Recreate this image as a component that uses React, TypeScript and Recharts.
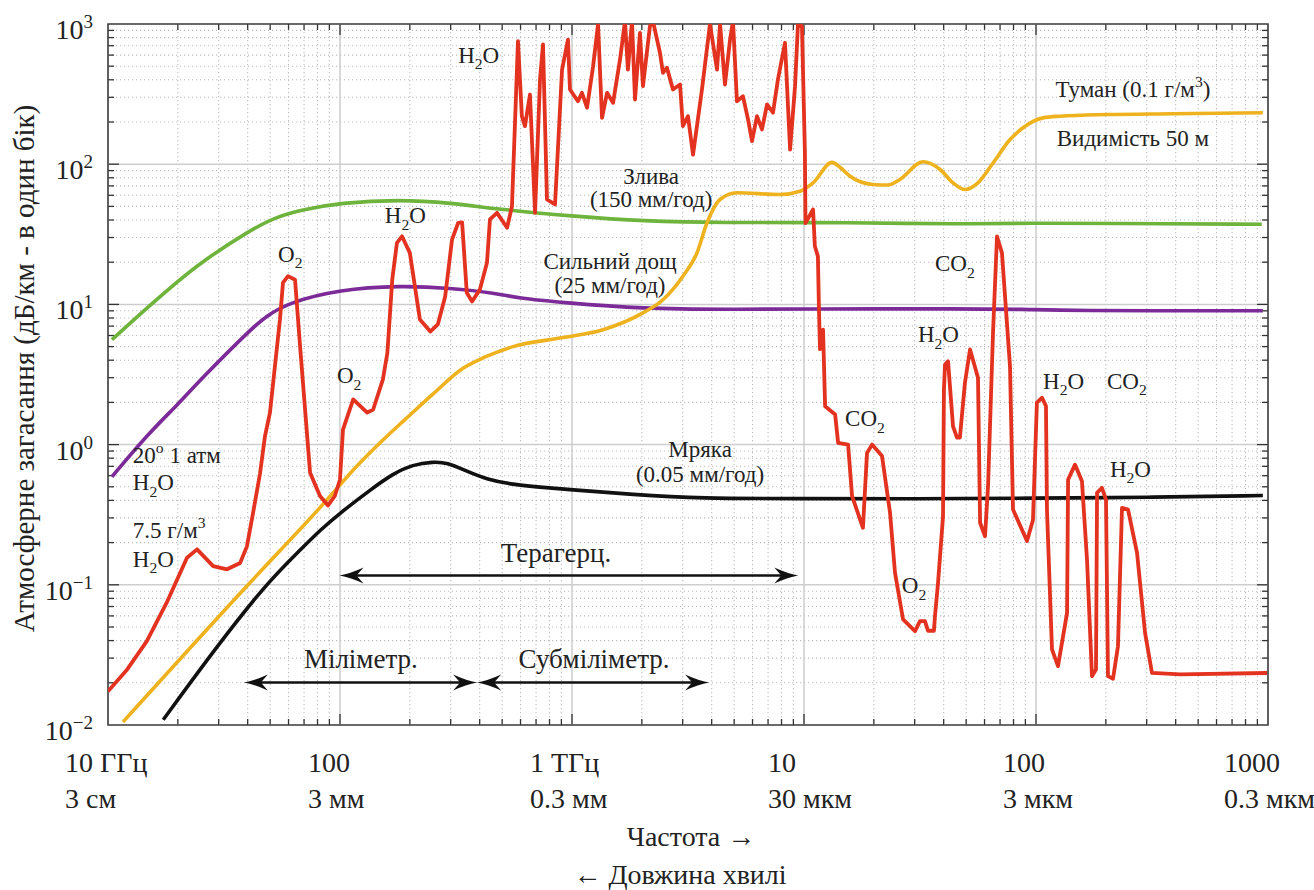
import React from 'react';
import {
  ComposedChart,
  Line,
  XAxis,
  YAxis,
  ReferenceLine,
  ReferenceDot,
  ReferenceArea,
} from 'recharts';

const FONT = "'Liberation Serif', 'Times New Roman', 'DejaVu Serif', serif";

// frequency in GHz, attenuation in dB/km (one way)
const freqTicks = [10, 100, 1000, 10000, 100000, 1000000];
const freqLabels = ['10 ГГц', '100', '1 ТГц', '10', '100', '1000'];
const waveLabels = ['3 см', '3 мм', '0.3 мм', '30 мкм', '3 мкм', '0.3 мкм'];
const attenTicks = [0.01, 0.1, 1, 10, 100, 1000];
const attenExp = ['−2', '−1', '0', '1', '2', '3'];
const minorSteps = [2, 3, 4, 5, 6, 7, 8, 9];

// clear air, 20°, 1 atm, H2O 7.5 g/m3
const clearAir: [number, number][] = [
  [10, 0.0174], [12.1, 0.0249], [14.7, 0.0396], [17.9, 0.0745], [21.9, 0.156], [24.2, 0.179],
  [28.4, 0.136], [32.6, 0.129], [37.1, 0.143], [39.7, 0.188], [42.2, 0.326], [45.2, 0.62],
  [47.5, 1.15], [49.9, 1.69], [55.1, 7.8], [56.8, 14.3], [59.7, 15.9], [64, 15], [67.3, 5.0],
  [74.3, 0.63], [82, 0.43], [88.8, 0.368], [95, 0.43], [100, 0.564], [103, 1.28], [114, 2.1],
  [131, 1.69], [139, 1.78], [153, 2.91], [160, 4.5], [168, 15.1], [176, 27.5], [185, 30.6],
  [200, 23.3], [221, 7.8], [245, 6.4], [264, 7.2], [284, 11.4], [304, 29], [323, 38.2],
  [336, 38.5], [352, 12.1], [371, 10.5], [401, 12.8], [430, 19.8], [443, 40.4], [475, 45],
  [525, 35.2], [551, 50], [585, 754], [608, 220], [627, 187], [659, 314], [693, 45], [728, 402],
  [750, 714], [780, 56], [845, 51.6], [906, 473], [961, 774], [980, 341], [1061, 281],
  [1104, 323], [1161, 253], [1233, 500], [1295, 1000], [1347, 214], [1416, 323], [1503, 274],
  [1611, 559], [1692, 1050], [1742, 473], [1814, 1050], [1869, 289], [1963, 865], [2022, 360],
  [2167, 964], [2233, 1050], [2394, 624], [2466, 449], [2566, 487], [2723, 341], [2922, 370],
  [3006, 187], [3162, 220], [3324, 117], [3632, 341], [3933, 1000], [4217, 473], [4347, 1000],
  [4564, 370], [4800, 774], [4943, 1050], [5140, 281], [5458, 305], [5741, 208], [5970, 146],
  [6270, 220], [6590, 177], [6930, 267], [7350, 233], [7720, 402], [8280, 735], [8710, 127],
  [9150, 360], [9420, 1000], [9800, 964], [10090, 121], [10150, 38], [10940, 47.5], [11140, 26],
  [11480, 22], [11600, 9.2], [11720, 4.8], [12080, 6.6], [12330, 1.88], [13620, 1.64],
  [14030, 1.03], [15490, 1.0], [16110, 0.43], [17950, 0.255], [18690, 0.87], [19650, 1.0],
  [21690, 0.83], [23490, 0.326], [24670, 0.122], [26730, 0.0566], [30090, 0.0467],
  [31620, 0.055], [33240, 0.055], [34230, 0.047], [36310, 0.047], [36700, 0.06], [37820, 0.103],
  [39740, 0.308], [40100, 2.47], [40540, 3.73], [41770, 3.93], [43890, 1.35], [45650, 1.12],
  [46990, 1.12], [49400, 2.76], [51960, 4.77], [56230, 3.0], [57410, 0.277], [60300, 0.222],
  [62130, 0.505], [65280, 6.3], [67900, 30.5], [71330, 23.3], [77270, 3.6], [79600, 0.344],
  [91450, 0.205], [97040, 0.29], [100900, 1.99], [106200, 2.16], [110400, 1.88], [111500, 0.344],
  [117200, 0.0346], [124400, 0.0263], [136100, 0.063], [137500, 0.563], [147300, 0.72],
  [157800, 0.548], [165900, 0.151], [174300, 0.0223], [181400, 0.0249], [183300, 0.453],
  [192400, 0.492], [200300, 0.405], [204300, 0.0223], [214800, 0.0214], [225600, 0.0365],
  [234800, 0.354], [249300, 0.344], [272600, 0.169], [295200, 0.0454], [316200, 0.0235],
  [417600, 0.023], [990000, 0.0235],
];

// downpour 150 mm/h
const downpour: [number, number][] = [
  [10.4, 5.6], [15, 9.7], [20, 14.6], [25, 19.8], [41, 34], [54, 42.6], [70, 47.5], [100, 53],
  [180, 56], [300, 53], [490, 47.5], [1000, 42.6], [2000, 39.2], [4800, 38.2], [10000, 38.5],
  [30000, 37.8], [50000, 37.5], [100000, 38], [200000, 37.8], [940000, 37.3],
];

// heavy rain 25 mm/h
const heavyRain: [number, number][] = [
  [10.4, 0.59], [15, 1.21], [20, 1.93], [25, 2.9], [41, 6.6], [48, 8.2], [59, 10.2], [100, 12.8],
  [181, 13.6], [298, 13.1], [475, 12.0], [580, 11.1], [914, 10.3], [2000, 9.3], [4800, 9.2],
  [10000, 9.3], [50000, 9.3], [90000, 9.25], [130000, 9.0], [950000, 9.0],
];

// fog 0.1 g/m3, visibility 50 m
const fog: [number, number][] = [
  [11.6, 0.0105], [39.7, 0.098], [82, 0.355], [120, 0.72], [164, 1.2], [190, 1.5], [252, 2.3],
  [339, 3.5], [420, 4.2], [557, 5.0], [914, 5.8], [1360, 6.6], [2022, 8.7], [2466, 10.8],
  [3006, 15.9], [3457, 23.3], [3820, 38.2], [4347, 56], [5140, 62.5], [7880, 60.8], [9620, 64.2],
  [10940, 73.6], [13200, 103], [14290, 95], [15800, 82], [19820, 71.6], [23000, 71], [25900, 77.8],
  [32600, 104], [38600, 91.6], [43900, 73.6], [49400, 66], [56200, 73.6], [65300, 102],
  [77300, 150], [87900, 182], [107200, 214], [126900, 220], [202000, 226], [389600, 229],
  [950000, 233],
];

// drizzle 0.05 mm/h
const drizzle: [number, number][] = [
  [17.3, 0.0109], [29.5, 0.0365], [48.4, 0.103], [68, 0.18], [82, 0.245], [100, 0.325],
  [135, 0.475], [169, 0.62], [206, 0.72], [252, 0.755], [289, 0.745], [352, 0.645], [430, 0.564],
  [557, 0.519], [728, 0.497], [950, 0.479], [1830, 0.44], [3570, 0.413], [9600, 0.412],
  [30000, 0.41], [100000, 0.415], [300000, 0.42], [950000, 0.433],
];

const toPts = (arr: [number, number][]) => arr.map(([f, a]) => ({ f, a }));

type Part = { t: string; s?: 'sub' | 'sup' };
const H2O: Part[] = [{ t: 'H' }, { t: '2', s: 'sub' }, { t: 'O' }];
const O2: Part[] = [{ t: 'O' }, { t: '2', s: 'sub' }];
const CO2: Part[] = [{ t: 'CO' }, { t: '2', s: 'sub' }];

const notes: { f: number; a: number; parts: Part[]; anchor?: string; size?: number }[] = [
  { f: 323, a: 531, parts: H2O },
  { f: 54.1, a: 20.2, parts: O2 },
  { f: 156, a: 37.8, parts: H2O },
  { f: 97, a: 2.73, parts: O2 },
  { f: 12.8, a: 0.745, parts: [{ t: '20' }, { t: 'o', s: 'sup' }, { t: ' 1 атм' }] },
  { f: 12.8, a: 0.471, parts: H2O },
  { f: 12.8, a: 0.217, parts: [{ t: '7.5 г/м' }, { t: '3', s: 'sup' }] },
  { f: 12.8, a: 0.135, parts: H2O },
  { f: 2193, a: 72.8, parts: [{ t: 'Злива' }], anchor: 'middle' },
  { f: 2193, a: 49.9, parts: [{ t: '(150 мм/год)' }], anchor: 'middle' },
  { f: 1459, a: 18.0, parts: [{ t: 'Сильний дощ' }], anchor: 'middle' },
  { f: 1459, a: 12.0, parts: [{ t: '(25 мм/год)' }], anchor: 'middle' },
  { f: 261800, a: 304, parts: [{ t: 'Туман (0.1 г/м' }, { t: '3', s: 'sup' }, { t: ')' }], anchor: 'middle' },
  { f: 261800, a: 134, parts: [{ t: 'Видимість 50 м' }], anchor: 'middle' },
  { f: 36700, a: 17.2, parts: CO2 },
  { f: 30970, a: 5.35, parts: H2O },
  { f: 107200, a: 2.51, parts: H2O },
  { f: 202400, a: 2.51, parts: CO2 },
  { f: 15030, a: 1.35, parts: CO2 },
  { f: 208300, a: 0.592, parts: H2O },
  { f: 26410, a: 0.0867, parts: O2 },
  { f: 3565, a: 0.822, parts: [{ t: 'Мряка' }], anchor: 'middle' },
  { f: 3565, a: 0.537, parts: [{ t: '(0.05 мм/год)' }], anchor: 'middle' },
  { f: 853, a: 0.1466, parts: [{ t: 'Терагерц.' }], anchor: 'middle', size: 27 },
  { f: 123, a: 0.0257, parts: [{ t: 'Міліметр.' }], anchor: 'middle', size: 27 },
  { f: 1245, a: 0.0257, parts: [{ t: 'Субміліметр.' }], anchor: 'middle', size: 27 },
];

// band arrows (terahertz, millimetre, submillimetre)
const bandArrows = [
  { from: 99.5, to: 9450, a: 0.1165 },
  { from: 38.5, to: 390, a: 0.0201 },
  { from: 390, to: 3900, a: 0.0201 },
];

const xLabelDx = [-43, -32, -42, -36, -33, -44];

const decadesX = [10, 100, 1000, 10000, 100000];
const decadesY = [0.01, 0.1, 1, 10, 100];
const freqMinor = decadesX.flatMap((d) => minorSteps.map((s) => d * s));
const attenMinor = decadesY.flatMap((d) => minorSteps.map((s) => +(d * s).toPrecision(3)));
const freqMajor = [100, 1000, 10000, 100000];
const attenMajor = [0.1, 1, 10, 100];

const renderParts = (parts: Part[], size: number) => {
  let shift = 0;
  return parts.map((p, i) => {
    const target = p.s === 'sub' ? size * 0.3 : p.s === 'sup' ? -size * 0.42 : 0;
    const dy = target - shift;
    shift = target;
    return (
      <tspan key={i} dy={dy} fontSize={p.s ? size * 0.68 : size}>
        {p.t}
      </tspan>
    );
  });
};

const vGrid = (major: boolean) => (p: any) => {
  const top = Math.min(p.y1, p.y2);
  const bot = Math.max(p.y1, p.y2);
  const len = major ? 11 : 6;
  return (
    <g>
      <line x1={p.x1} x2={p.x1} y1={top} y2={bot} stroke={major ? '#cdcdcd' : '#bcbcbc'}
        strokeWidth={major ? 1.5 : 1.1} strokeDasharray={major ? undefined : '1.2 2.8'} />
      <line x1={p.x1} x2={p.x1} y1={top} y2={top + len} stroke="#333" strokeWidth={1.3} />
      <line x1={p.x1} x2={p.x1} y1={bot} y2={bot - len} stroke="#333" strokeWidth={1.3} />
    </g>
  );
};

const hGrid = (major: boolean) => (p: any) => {
  const l = Math.min(p.x1, p.x2);
  const r = Math.max(p.x1, p.x2);
  const len = major ? 11 : 6;
  return (
    <g>
      <line x1={l} x2={r} y1={p.y1} y2={p.y1} stroke={major ? '#cdcdcd' : '#bcbcbc'}
        strokeWidth={major ? 1.5 : 1.1} strokeDasharray={major ? undefined : '1.2 2.8'} />
      <line x1={l} x2={l + len} y1={p.y1} y2={p.y1} stroke="#333" strokeWidth={1.3} />
      <line x1={r} x2={r - len} y1={p.y1} y2={p.y1} stroke="#333" strokeWidth={1.3} />
    </g>
  );
};

const arrowShape = (p: any) => {
  const xa = Math.min(p.x1, p.x2);
  const xb = Math.max(p.x1, p.x2);
  const y = p.y1;
  const head = (tx: number, d: number) =>
    `M${tx},${y} Q${tx - d * 11},${y - 2} ${tx - d * 24},${y - 8} L${tx - d * 17},${y} L${tx - d * 24},${y + 8} Q${tx - d * 11},${y + 2} ${tx},${y} Z`;
  return (
    <g>
      <line x1={xa + 6} x2={xb - 6} y1={y} y2={y} stroke="#111" strokeWidth={2.4} />
      <path d={head(xa, -1)} fill="#111" />
      <path d={head(xb, 1)} fill="#111" />
    </g>
  );
};

const noteShape = (n: (typeof notes)[number]) => (p: any) => {
  const size = n.size ?? 23;
  return (
    <text x={p.cx} y={p.cy} textAnchor={n.anchor ?? 'start'} fontFamily={FONT} fontSize={size} fill="#222">
      {renderParts(n.parts, size)}
    </text>
  );
};

const XTick = (p: any) => {
  const i = freqTicks.indexOf(p.payload.value);
  if (i < 0) return null;
  const x0 = p.x + xLabelDx[i];
  return (
    <text textAnchor="start" fontFamily={FONT} fontSize={28} fill="#222">
      <tspan x={x0} y={p.y + 39}>{freqLabels[i]}</tspan>
      <tspan x={x0} y={p.y + 75}>{waveLabels[i]}</tspan>
    </text>
  );
};

const YTick = (p: any) => {
  const i = attenTicks.indexOf(p.payload.value);
  if (i < 0) return null;
  return (
    <text x={p.x - 7} y={p.y + 15} textAnchor="end" fontFamily={FONT} fontSize={28} fill="#222">
      10
      <tspan dy={-11} fontSize={19}>{attenExp[i]}</tspan>
    </text>
  );
};

const XTitle = (props: any) => {
  const vb = props.viewBox;
  const cx = vb.x + vb.width / 2;
  return (
    <g fontFamily={FONT} fontSize={28} fill="#222">
      <text x={cx + 3} y={vb.y + 121} textAnchor="middle">Частота →</text>
      <text x={cx - 8} y={vb.y + 159} textAnchor="middle">← Довжина хвилі</text>
    </g>
  );
};

const YTitle = (props: any) => {
  const vb = props.viewBox;
  const x = vb.x + 26;
  const y = vb.y + vb.height / 2 - 6;
  return (
    <text x={x} y={y} transform={`rotate(-90, ${x}, ${y})`} textAnchor="middle"
      fontFamily={FONT} fontSize={29} fill="#222">
      Атмосферне загасання (дБ/км - в один бік)
    </text>
  );
};

export default function App() {
  return (
    <div style={{ width: 1314, height: 890, background: '#fff' }}>
      <style>{'body{margin:0;}'}</style>
      <ComposedChart width={1314} height={890} margin={{ top: 24, right: 46, bottom: 65, left: 8 }}>
        <XAxis
          dataKey="f"
          type="number"
          scale="log"
          domain={[10, 1000000]}
          ticks={freqTicks}
          interval={0}
          allowDataOverflow
          axisLine={false}
          tickLine={false}
          height={100}
          tick={(p: any) => <XTick {...p} />}
          label={{ content: XTitle }}
        />
        <YAxis
          type="number"
          scale="log"
          domain={[0.01, 1000]}
          ticks={attenTicks}
          interval={0}
          allowDataOverflow
          axisLine={false}
          tickLine={false}
          width={100}
          tick={(p: any) => <YTick {...p} />}
          label={{ content: YTitle }}
        />

        {freqMinor.map((f) => (
          <ReferenceLine key={`vm${f}`} x={f} shape={vGrid(false)} />
        ))}
        {attenMinor.map((a) => (
          <ReferenceLine key={`hm${a}`} y={a} shape={hGrid(false)} />
        ))}
        {freqMajor.map((f) => (
          <ReferenceLine key={`vM${f}`} x={f} shape={vGrid(true)} />
        ))}
        {attenMajor.map((a) => (
          <ReferenceLine key={`hM${a}`} y={a} shape={hGrid(true)} />
        ))}
        <ReferenceArea x1={10} x2={1000000} y1={0.01} y2={1000} fill="none" fillOpacity={0}
          stroke="#3a3a3a" strokeWidth={1.6} />

        <Line data={toPts(drizzle)} dataKey="a" type="basis" stroke="#111111" strokeWidth={3.6}
          dot={false} activeDot={false} isAnimationActive={false} />
        <Line data={toPts(heavyRain)} dataKey="a" type="basis" stroke="#7b2a97" strokeWidth={3.6}
          dot={false} activeDot={false} isAnimationActive={false} />
        <Line data={toPts(downpour)} dataKey="a" type="basis" stroke="#6db33c" strokeWidth={3.6}
          dot={false} activeDot={false} isAnimationActive={false} />
        <Line data={toPts(fog)} dataKey="a" type="monotone" stroke="#efb21f" strokeWidth={3.6}
          dot={false} activeDot={false} isAnimationActive={false} />
        <Line data={toPts(clearAir)} dataKey="a" type="linear" stroke="#e3321f" strokeWidth={3.8}
          strokeLinejoin="round" dot={false} activeDot={false} isAnimationActive={false} />

        {bandArrows.map((b, i) => (
          <ReferenceLine key={`ar${i}`} segment={[{ x: b.from, y: b.a }, { x: b.to, y: b.a }]} shape={arrowShape} />
        ))}
        {notes.map((n, i) => (
          <ReferenceDot key={`n${i}`} x={n.f} y={n.a} r={0} shape={noteShape(n)} />
        ))}
      </ComposedChart>
    </div>
  );
}
